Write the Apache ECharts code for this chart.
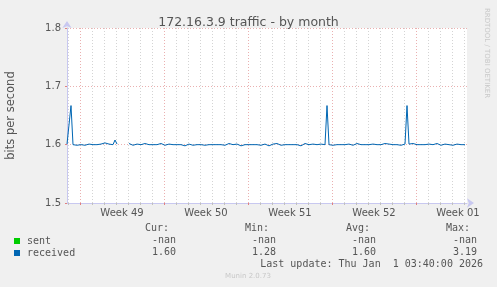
<!DOCTYPE html>
<html>
<head>
<meta charset="utf-8">
<script src="https://cdn.jsdelivr.net/npm/echarts@6/dist/echarts.min.js"></script>
<style>
html,body{margin:0;padding:0;background:#f0f0f0;}
#c{width:497px;height:287px;}
</style>
</head>
<body>
<div id="c"></div>
<script>
// ---- data ----
const titleText = '172.16.3.9 traffic - by month';
const yAxisName = 'bits per second';
const seriesNames = ['sent', 'received'];
const seriesColors = ['#00cc00', '#0066b3'];
// hours relative to Mon Dec 1 2025 00:00
const xMinHour = -26;
const xMaxHour = 774;
const sampleStartHour = -26;
const sampleStepHours = 4;
const weekLabels = ['Week 49', 'Week 50', 'Week 51', 'Week 52', 'Week 01'];
const weekStartHours = [0, 168, 336, 504, 672];
const dayHours = [-24, 24, 48, 72, 96, 120, 144, 192, 216, 240, 264, 288, 312, 360, 384, 408, 432, 456, 480, 528, 552, 576, 600, 624, 648, 696, 720, 744, 768];
const yTicks = [1.5, 1.6, 1.7, 1.8];
const sentValues = [];
const receivedValues = [
  1.601, 1.600, 1.667, 1.600, 1.601, 1.599, 1.600, 1.600, 1.602, 1.599,
  1.600, 1.601, 1.598, 1.600, 1.602, 1.600, 1.599, 1.601, 1.600, 1.603,
  1.600, 1.601, 1.602, 1.600, 1.608, 1.601, null, null, null, null,
  null, 1.602, 1.600, 1.599, 1.600, 1.601, 1.598, 1.600, 1.600, 1.602,
  1.599, 1.600, 1.601, 1.600, 1.598, 1.600, 1.600, 1.602, 1.600, 1.599,
  1.600, 1.601, 1.600, 1.600, 1.599, 1.600, 1.602, 1.600, 1.600, 1.598,
  1.600, 1.601, 1.600, 1.599, 1.600, 1.600, 1.602, 1.600, 1.601, 1.599,
  1.600, 1.600, 1.602, 1.600, 1.598, 1.600, 1.601, 1.600, 1.600, 1.599,
  1.600, 1.602, 1.600, 1.600, 1.599, 1.601, 1.600, 1.598, 1.600, 1.600,
  1.601, 1.600, 1.599, 1.600, 1.602, 1.600, 1.600, 1.599, 1.600, 1.601,
  1.600, 1.598, 1.600, 1.601, 1.600, 1.602, 1.600, 1.599, 1.600, 1.600,
  1.602, 1.600, 1.599, 1.600, 1.601, 1.600, 1.600, 1.598, 1.600, 1.602,
  1.600, 1.600, 1.599, 1.601, 1.602, 1.600, 1.599, 1.601, 1.600, 1.600,
  1.667, 1.600, 1.601, 1.599, 1.600, 1.600, 1.602, 1.600, 1.598, 1.600,
  1.600, 1.601, 1.600, 1.599, 1.600, 1.602, 1.600, 1.600, 1.599, 1.600,
  1.600, 1.600, 1.600, 1.601, 1.598, 1.600, 1.601, 1.600, 1.599, 1.602,
  1.600, 1.601, 1.599, 1.600, 1.602, 1.600, 1.601, 1.599, 1.600, 1.601,
  1.667, 1.601, 1.600, 1.602, 1.599, 1.600, 1.600, 1.600, 1.600, 1.600,
  1.600, 1.601, 1.598, 1.600, 1.600, 1.602, 1.600, 1.599, 1.600, 1.601,
  1.600, 1.600, 1.602, 1.599, 1.600, 1.601, 1.600, 1.600, 1.599, 1.600
];
const statHeaders = ['Cur:', 'Min:', 'Avg:', 'Max:'];
const curValues = ['-nan', '1.60'];
const minValues = ['-nan', '1.28'];
const avgValues = ['-nan', '1.60'];
const maxValues = ['-nan', '3.19'];
const lastUpdateText = 'Last update: Thu Jan  1 03:40:00 2026';
const footerText = 'Munin 2.0.73';
const watermarkText = 'RRDTOOL / TOBI OETIKER';

// ---- build ----
const receivedData = receivedValues.map((v, i) => [sampleStartHour + i * sampleStepHours, v]);
const weekMidHours = weekStartHours.map(h => h + 84);

const mono = 'DejaVu Sans Mono';
const sans = 'DejaVu Sans';
const axisColor = '#c8c8f0';
const majorGrid = '#eab0b0';
const minorGrid = '#d4d4d4';

const gridLineData = dayHours.map(h => ({xAxis: h, lineStyle: {color: minorGrid, type: [1, 2], width: 1}}))
  .concat(weekStartHours.map(h => ({xAxis: h, lineStyle: {color: majorGrid, type: [1, 2], width: 1}})));

const statCols = [
  {hx: 169, vx: 176, vals: curValues},
  {hx: 269, vx: 276, vals: minValues},
  {hx: 370, vx: 376, vals: avgValues},
  {hx: 470, vx: 477, vals: maxValues}
];
const graphics = [];
statCols.forEach((c, i) => {
  graphics.push({type: 'text', x: c.hx, y: 228, style: {text: statHeaders[i], font: '10px ' + mono, fill: '#555', align: 'right', verticalAlign: 'middle'}});
  c.vals.forEach((v, r) => {
    graphics.push({type: 'text', x: c.vx, y: 240 + r * 12, style: {text: v, font: '10px ' + mono, fill: '#555', align: 'right', verticalAlign: 'middle'}});
  });
});
graphics.push({type: 'text', x: 483, y: 264, style: {text: lastUpdateText, font: '10px ' + mono, fill: '#555', align: 'right', verticalAlign: 'middle'}});
graphics.push({type: 'text', x: 248, y: 276, style: {text: footerText, font: '7px ' + sans, fill: '#c8c8c8', align: 'center', verticalAlign: 'middle'}});
graphics.push({type: 'text', x: 487, y: 53, rotation: -Math.PI / 2, style: {text: watermarkText, font: '7px ' + sans, fill: '#c8c8c8', align: 'center', verticalAlign: 'middle'}});

const chart = echarts.init(document.getElementById('c'), null, {renderer: 'canvas'});
chart.setOption({
  animation: false,
  backgroundColor: '#f0f0f0',
  title: {
    text: titleText, left: 'center', top: 11,
    textStyle: {fontFamily: sans, fontSize: 12.5, fontWeight: 'normal', color: '#555'}
  },
  legend: {
    left: 9, top: 230, orient: 'vertical', itemGap: 0, itemWidth: 6, itemHeight: 6, icon: 'rect',
    data: seriesNames,
    textStyle: {fontFamily: mono, fontSize: 10, color: '#555', lineHeight: 12, padding: [0, 0, 0, 2]}
  },
  grid: {left: 67, right: 30, top: 28, bottom: 84, containLabel: false, outerBoundsMode: 'none', show: true, backgroundColor: '#ffffff', borderWidth: 0},
  xAxis: [
    {
      type: 'value', min: xMinHour, max: xMaxHour, position: 'bottom',
      axisLine: {show: true, onZero: false, lineStyle: {color: axisColor, width: 1}, symbol: ['none', 'arrow'], symbolSize: [7, 7], symbolOffset: [0, 7]},
      axisTick: {show: true, customValues: dayHours, length: 2, lineStyle: {color: '#c0c0c0'}},
      splitLine: {show: false},
      axisLabel: {
        customValues: weekMidHours, color: '#555', fontFamily: sans, fontSize: 10, margin: 5,
        formatter: v => weekLabels[weekMidHours.indexOf(v)] || ''
      }
    },
    {
      type: 'value', min: xMinHour, max: xMaxHour, position: 'bottom',
      axisLine: {show: false, onZero: false},
      axisTick: {show: true, customValues: weekStartHours, length: 2, lineStyle: {color: '#e08080'}},
      splitLine: {show: false},
      axisLabel: {show: false}
    }
  ],
  yAxis: {
    type: 'value', min: yTicks[0], max: yTicks[yTicks.length - 1], interval: 0.1,
    name: yAxisName, nameLocation: 'middle', nameRotate: 90, nameGap: 50,
    nameTextStyle: {fontFamily: sans, fontSize: 11.5, color: '#555'},
    axisLine: {show: true, onZero: false, lineStyle: {color: axisColor, width: 1}, symbol: ['none', 'arrow'], symbolSize: [7, 7], symbolOffset: [0, 7]},
    axisTick: {show: true, length: 2, lineStyle: {color: '#e08080'}},
    splitLine: {show: true, lineStyle: {color: majorGrid, type: [1, 2], width: 1}},
    axisLabel: {color: '#555', fontFamily: sans, fontSize: 10, margin: 6, formatter: v => v.toFixed(1)}
  },
  series: [
    {
      type: 'line', xAxisIndex: 0, data: [[xMinHour, null]], showSymbol: false, silent: true, z: 1,
      markLine: {silent: true, symbol: ['none', 'none'], label: {show: false}, animation: false, data: gridLineData}
    },
    {name: seriesNames[0], type: 'line', xAxisIndex: 0, data: sentValues, color: seriesColors[0], showSymbol: false, lineStyle: {width: 1}},
    {name: seriesNames[1], type: 'line', xAxisIndex: 0, data: receivedData, color: seriesColors[1], showSymbol: false, connectNulls: false, lineStyle: {width: 1}, z: 5}
  ],
  graphic: graphics
});
</script>
</body>
</html>
